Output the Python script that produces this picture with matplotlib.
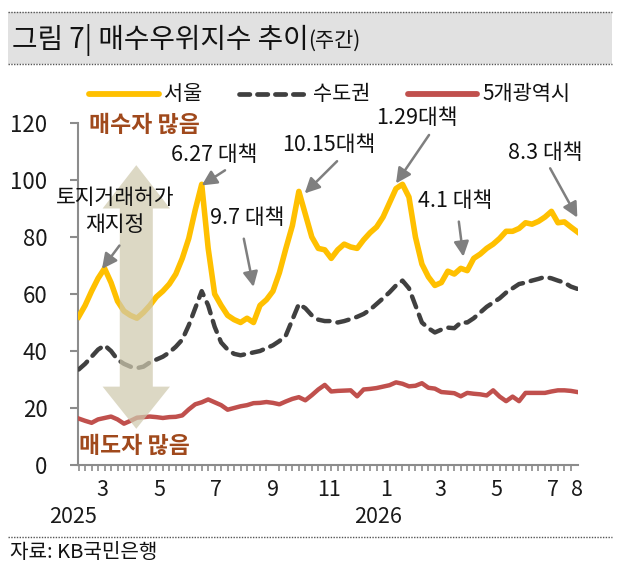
import matplotlib
matplotlib.use("Agg")
import matplotlib.pyplot as plt
from matplotlib.lines import Line2D
from matplotlib.patches import Polygon, Rectangle
import numpy as np
import pandas as pd

plt.rcParams['font.family'] = ['Noto Sans CJK KR', 'DejaVu Sans']

# ---------------- data ----------------
start_date = "2025-02-03"
n_weeks = 78

seoul = [52, 56, 61, 65.5, 69, 64, 57.5, 54, 52.5, 51.5,
         53.5, 56, 59, 61, 63.5, 67, 72.5, 79.5, 89.5, 98.5,
         76, 60, 56, 52.5, 51, 50, 51.5, 50, 56, 58,
         61, 67.5, 76, 84, 96, 88, 80, 76, 75.5, 72.5,
         75.5, 77.5, 76.5, 76, 79, 81.5, 83.5, 87, 92, 97,
         98.5, 94, 80, 70.5, 66, 63, 64, 68, 67, 69,
         68.2, 72.5, 74, 76, 77.5, 79.5, 82, 82, 83, 85,
         84.5, 85.5, 87, 89, 85, 85.3, 83.5, 81.8]

capital = [33.5, 35.5, 38, 40.5, 42, 40, 37, 35.5, 34.5, 34,
           34.5, 36, 37, 38, 39.5, 41.5, 44, 49, 55, 61,
           56, 48.5, 43, 40.5, 39, 38.5, 39, 39.5, 40, 41,
           42, 43.5, 45.5, 51, 56.5, 55, 52.5, 51, 50.5, 50.5,
           50, 50.5, 51.2, 52, 53, 54.5, 56.5, 58.5, 60.6, 63,
           64.7, 62, 56, 50, 48, 46.5, 47.5, 48.2, 48, 50,
           50, 51.5, 53.5, 55.5, 57, 58.5, 60.5, 62, 63.5, 64,
           64.7, 65.3, 66, 65.5, 64.7, 64, 62.6, 61.8]

metro5 = [16.3, 15.5, 14.8, 16, 16.5, 17, 16, 14.5, 15.5, 16.6,
          16.8, 17, 16.8, 16.5, 16.8, 16.9, 17.4, 19.5, 21.3, 22,
          23, 22, 21, 19.4, 20, 20.6, 21, 21.7, 21.8, 22.1,
          21.8, 21.3, 22.3, 23.2, 23.8, 22.7, 24.5, 26.5, 28.1, 25.8,
          26, 26.1, 26.2, 24.1, 26.5, 26.7, 27, 27.5, 28, 29,
          28.5, 27.6, 27.8, 28.7, 27.1, 26.8, 25.6, 25.4, 25.2, 24.1,
          25.3, 25, 24.8, 24.4, 26.2, 24, 22.4, 24, 22.4, 25.3,
          25.3, 25.3, 25.3, 25.8, 26.2, 26.2, 26, 25.6]

series_names = ["서울", "수도권", "5개광역시"]
month_dates = ["2025-03-01", "2025-05-01", "2025-07-01", "2025-09-01",
               "2025-11-01", "2026-01-01", "2026-03-01", "2026-05-01",
               "2026-07-01"]
month_labels = ["3", "5", "7", "9", "11", "1", "3", "5", "7"]
last_label = "8"
y_ticks = [0, 20, 40, 60, 80, 100, 120]

# ---------------- figure ----------------
W, H = 622, 573
fig = plt.figure(figsize=(W / 100, H / 100), dpi=100)

def fx(px):
    return px / W

def fy(py):
    return 1 - py / H

# title bar
fig.patches.append(Rectangle((fx(8), fy(64)), fx(604), (64 - 12) / H,
                             transform=fig.transFigure, facecolor="#e1e1e1",
                             edgecolor="none", zorder=0))
for yy in (12, 64, 537):
    fig.add_artist(Line2D([fx(8), fx(612)], [fy(yy), fy(yy)], transform=fig.transFigure,
                          color="#555555", lw=1.0, linestyle=(0, (1, 1))))
t1 = fig.text(fx(12), fy(40), "그림 7| 매수우위지수 추이", fontsize=20, color="#111111",
              va="center", ha="left")
fig.canvas.draw()
bb = t1.get_window_extent()
fig.text(bb.x1 / W, fy(41), "(주간)", fontsize=15, color="#111111", va="center", ha="left")

fig.text(fx(10), fy(553), "자료: KB국민은행", fontsize=14.5, color="#111111",
         va="center", ha="left")

# legend (manual)
leg_y = fy(94)
legend_items = [
    (89, 159, "#ffc000", "-", 4.2, series_names[0]),
    (239, 308, "#404040", (0, (2.2, 1.6)), 3.4, series_names[1]),
    (408, 477, "#c0504d", "-", 4.2, series_names[2]),
]
for x0, x1, c, ls, lw, name in legend_items:
    fig.add_artist(Line2D([fx(x0), fx(x1)], [leg_y, leg_y], transform=fig.transFigure,
                          color=c, lw=lw, linestyle=ls, solid_capstyle="round",
                          dash_capstyle="round"))
    fig.text(fx(x1 + 5), leg_y, name, fontsize=15, color="#111111", va="center", ha="left")

# axes
ax = fig.add_axes([fx(78), fy(465), fx(578 - 78), (465 - 123) / H])
x = np.arange(n_weeks)
ax.plot(x, seoul, color="#ffc000", lw=4.0, solid_joinstyle="round", zorder=3)
ax.plot(x, capital, color="#404040", lw=3.2, linestyle=(0, (2.6, 1.8)),
        dash_capstyle="round", zorder=3)
ax.plot(x, metro5, color="#c0504d", lw=3.2, solid_joinstyle="round", zorder=3)

ax.set_xlim(-0.1, 77.1)
ax.set_ylim(0, 120)
for s in ("top", "right"):
    ax.spines[s].set_visible(False)
for s in ("left", "bottom"):
    ax.spines[s].set_color("#8c8c8c")
    ax.spines[s].set_linewidth(1.5)

ax.set_yticks(y_ticks)
ax.tick_params(axis="y", direction="out", length=6, width=1.5, color="#8c8c8c",
               labelsize=16, labelcolor="#1a1a1a", pad=16)

start = pd.Timestamp(start_date)
mpos = [(pd.Timestamp(d) - start).days / 7 for d in month_dates]
ax.set_xticks(mpos + [n_weeks - 1])
ax.set_xticklabels(month_labels + [last_label])
ax.set_xticks(x, minor=True)
ax.tick_params(axis="x", which="major", length=0, labelsize=15.5, labelcolor="#1a1a1a", pad=10)
ax.tick_params(axis="x", which="minor", direction="out", length=4, width=1.2, color="#8c8c8c")

ax.text(-0.9, -0.152, "2025", transform=ax.get_xaxis_transform(), fontsize=15.5,
        color="#1a1a1a", ha="center", va="center", clip_on=False)
ax.text(46.2, -0.152, "2026", transform=ax.get_xaxis_transform(), fontsize=15.5,
        color="#1a1a1a", ha="center", va="center", clip_on=False)

# big double arrow (buyers/sellers)
cx = 8.9
shaft_half, head_half = 2.55, 5.2
poly = [(cx - shaft_half, 90), (cx - head_half, 90), (cx, 105.2), (cx + head_half, 90),
        (cx + shaft_half, 90), (cx + shaft_half, 27.5), (cx + head_half, 27.5), (cx, 12.7),
        (cx - head_half, 27.5), (cx - shaft_half, 27.5)]
ax.add_patch(Polygon(poly, closed=True, facecolor="#cfc9ae", edgecolor="none",
                     alpha=0.72, zorder=4))

ax.text(1.6, 119.3, "매수자 많음", fontsize=16.5, fontweight="bold", color="#a0491c",
        ha="left", va="center", zorder=5, clip_on=False)
ax.text(0.1, 6.4, "매도자 많음", fontsize=16.5, fontweight="bold", color="#a0491c",
        ha="left", va="center", zorder=5)

# event annotations
notes = [
    ("토지거래허가\n재지정", (5.6, 89), (6.3, 77), (3.6, 68.8)),
    ("6.27 대책", (20.9, 108.7), (22.6, 103.4), (19.0, 98.1)),
    ("9.7 대책", (26.0, 86.5), (25.5, 79.4), (27.0, 62.5)),
    ("10.15대책", (38.6, 112.2), (39.9, 106.6), (34.9, 95.3)),
    ("1.29대책", (52.2, 121.8), (54.1, 115.8), (49.0, 98.8)),
    ("4.1 대책", (58.1, 92.5), (58.7, 85.4), (59.4, 73.1)),
    ("8.3 대책", (72.0, 109.4), (72.8, 104.1), (77.0, 86.8)),
]
for txt, tpos, a0, a1 in notes:
    ax.text(tpos[0], tpos[1], txt, fontsize=15.5, color="#111111", ha="center",
            va="center", linespacing=1.3, zorder=6, clip_on=False)
    ax.annotate("", xy=a1, xytext=a0,
                arrowprops=dict(arrowstyle="-|>,head_length=0.9,head_width=0.45",
                                color="#7f7f7f", lw=1.8, shrinkA=0, shrinkB=0),
                zorder=6, annotation_clip=False)

fig.savefig("out.png", dpi=100)
